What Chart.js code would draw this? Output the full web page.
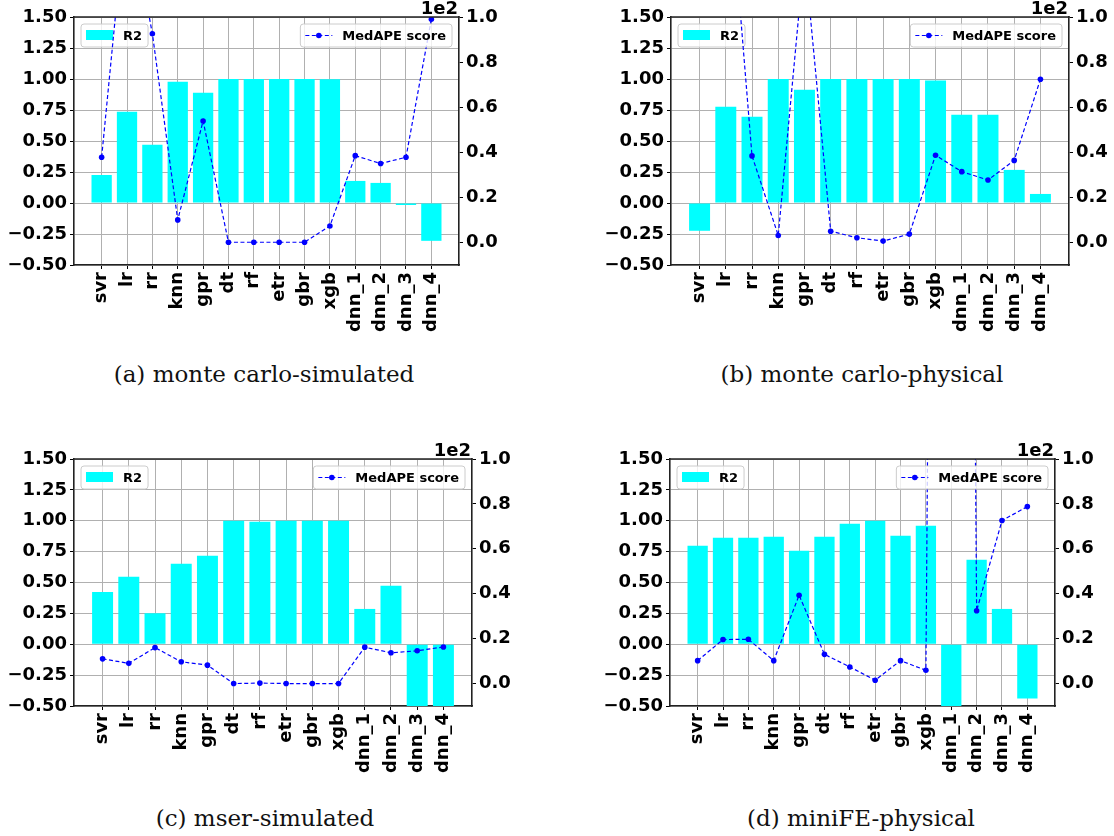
<!DOCTYPE html>
<html>
<head>
<meta charset="utf-8">
<script src="https://cdn.jsdelivr.net/npm/chart.js@4.4.0/dist/chart.umd.min.js"></script>
<style>
  html, body { margin: 0; padding: 0; background: #fff; }
  #page { position: relative; width: 1114px; height: 836px; overflow: hidden; }
  canvas { position: absolute; }
  .caption {
    position: absolute; width: 460px; margin-left: -230px; text-align: center;
    font-family: "DejaVu Serif", serif; font-size: 23px; line-height: 26px; color: #111;
  }
</style>
</head>
<body>
<div id="page"></div>
<script>
// ------------------------------------------------------------
// Data (R2 bars + MedAPE line).
// MedAPE kept in raw percent; right axis shows it as x1e2.
// ------------------------------------------------------------
const MODELS = ["svr", "lr", "rr", "knn", "gpr", "dt", "rf", "etr", "gbr", "xgb",
                "dnn_1", "dnn_2", "dnn_3", "dnn_4"];

const R2_MC_SIM = [0.226, 0.736, 0.469, 0.978, 0.889, 1.0, 1.0, 1.0, 1.0, 0.998, 0.178, 0.162, -0.016, -0.305];
const MAPE_MC_SIM = [37.8, 153, 92.6, 10.0, 53.9, 0.1, 0.1, 0.1, 0.1, 7.3, 38.5, 35.0, 37.8, 99.0];

const R2_MC_PHYS = [-0.224, 0.776, 0.695, 1.0, 0.914, 1.0, 1.0, 1.0, 1.0, 0.987, 0.712, 0.712, 0.267, 0.073];
const MAPE_MC_PHYS = [160, 181, 38.4, 3.1, 128, 5.0, 2.1, 0.6, 3.7, 38.7, 31.4, 27.7, 36.4, 72.4];

const R2_MSER_SIM = [0.424, 0.546, 0.251, 0.651, 0.716, 1.0, 0.992, 1.0, 1.0, 1.0, 0.286, 0.473, -0.8, -0.8];
const MAPE_MSER_SIM = [11.0, 9.0, 16.0, 9.7, 8.2, 0.0, 0.2, 0.0, 0.0, 0.0, 16.2, 13.7, 14.6, 16.3];

const R2_MINIFE_PHYS = [0.797, 0.862, 0.862, 0.870, 0.757, 0.870, 0.976, 1.0, 0.878, 0.959, -0.7, 0.684, 0.286, -0.44];
const MAPE_MINIFE_PHYS = [10.2, 19.6, 19.7, 10.2, 39.3, 13.0, 7.4, 1.5, 10.2, 5.9, 1500, 32.4, 72.6, 78.8];

const R2_RANGE = [-0.5, 1.5];
const R2_STEP = 0.25;
const MAPE_RANGE = [-10, 100];
const MAPE_TICKS = [0, 20, 40, 60, 80, 100];
const MAPE_OFFSET_LABEL = "1e2";

const CAPTIONS = ["(a) monte carlo-simulated", "(b) monte carlo-physical",
                  "(c) mser-simulated", "(d) miniFE-physical"];

// ------------------------------------------------------------
// Layout (page pixels): canvas box + plot area for every panel.
// ------------------------------------------------------------
const PANELS = [
  { r2: R2_MC_SIM, mape: MAPE_MC_SIM, caption: CAPTIONS[0],
    box: { x: 0, y: 0, w: 555, h: 345 }, area: { l: 74, t: 17, r: 459, b: 265 }, cap: { x: 264, y: 361 } },
  { r2: R2_MC_PHYS, mape: MAPE_MC_PHYS, caption: CAPTIONS[1],
    box: { x: 557, y: 0, w: 557, h: 345 }, area: { l: 671, t: 17, r: 1069, b: 265 }, cap: { x: 862, y: 361 } },
  { r2: R2_MSER_SIM, mape: MAPE_MSER_SIM, caption: CAPTIONS[2],
    box: { x: 0, y: 442, w: 555, h: 345 }, area: { l: 74, t: 459, r: 472, b: 706 }, cap: { x: 265, y: 805 } },
  { r2: R2_MINIFE_PHYS, mape: MAPE_MINIFE_PHYS, caption: CAPTIONS[3],
    box: { x: 557, y: 442, w: 557, h: 345 }, area: { l: 670, t: 459, r: 1055, b: 706 }, cap: { x: 861, y: 805 } },
];

const CYAN = "#00ffff";
const BLUE = "#0000ff";
const GRID = "#b0b0b0";
const SPINE = "#222222";
const TICK_FONT = { family: "'DejaVu Sans', sans-serif", size: 18, weight: "bold" };
const LEGEND_FONT = "bold 13px 'DejaVu Sans', sans-serif";
const X_MIN = -1.09;
const X_MAX = MODELS.length - 1 + 1.09;

function minusFmt(s) {
  return s.replace("-", "\u2212");
}

function legendFrame(ctx, x, y, w, h) {
  ctx.beginPath();
  ctx.roundRect(x, y, w, h, 3);
  ctx.fillStyle = "rgba(255,255,255,0.8)";
  ctx.fill();
  ctx.strokeStyle = "#cccccc";
  ctx.lineWidth = 1;
  ctx.stroke();
}

// R2 legend sits under the line (drawn before datasets),
// MedAPE legend, top spine and offset text go on top.
const panelDecor = {
  id: "panelDecor",
  beforeDatasetsDraw(chart) {
    const { ctx, chartArea: a } = chart;
    ctx.save();
    ctx.font = LEGEND_FONT;
    const tw = ctx.measureText("R2").width;
    const x = a.left + 7, y = a.top + 7, h = 23;
    legendFrame(ctx, x, y, 42 + tw + 6, h);
    ctx.fillStyle = CYAN;
    ctx.fillRect(x + 5, y + 6, 27, 10);
    ctx.fillStyle = "#000";
    ctx.textBaseline = "middle";
    ctx.fillText("R2", x + 42, y + h / 2 + 1);
    ctx.restore();
  },
  afterDatasetsDraw(chart) {
    const { ctx, chartArea: a } = chart;
    ctx.save();
    ctx.font = LEGEND_FONT;
    const label = "MedAPE score";
    const tw = ctx.measureText(label).width;
    const w = 42 + tw + 6, h = 23;
    const x = a.right - 7 - w, y = a.top + 7;
    legendFrame(ctx, x, y, w, h);
    ctx.strokeStyle = BLUE;
    ctx.lineWidth = 1.2;
    ctx.setLineDash([4, 2.5]);
    ctx.beginPath();
    ctx.moveTo(x + 5, y + h / 2);
    ctx.lineTo(x + 32, y + h / 2);
    ctx.stroke();
    ctx.setLineDash([]);
    ctx.fillStyle = BLUE;
    ctx.beginPath();
    ctx.arc(x + 18.5, y + h / 2, 2.8, 0, Math.PI * 2);
    ctx.fill();
    ctx.fillStyle = "#000";
    ctx.textBaseline = "middle";
    ctx.fillText(label, x + 42, y + h / 2 + 1);

    // top spine
    ctx.strokeStyle = SPINE;
    ctx.lineWidth = 1.6;
    ctx.beginPath();
    ctx.moveTo(a.left - 0.8, a.top);
    ctx.lineTo(a.right + 0.8, a.top);
    ctx.stroke();

    // offset text of the twin axis
    ctx.font = "bold 18px 'DejaVu Sans', sans-serif";
    ctx.textAlign = "right";
    ctx.textBaseline = "bottom";
    ctx.fillText(MAPE_OFFSET_LABEL, a.right - 1, a.top + 1);
    ctx.restore();
  },
};

function renderPanel(p) {
  const page = document.getElementById("page");
  const canvas = document.createElement("canvas");
  canvas.width = p.box.w;
  canvas.height = p.box.h;
  canvas.style.left = p.box.x + "px";
  canvas.style.top = p.box.y + "px";
  canvas.style.width = p.box.w + "px";
  canvas.style.height = p.box.h + "px";
  page.appendChild(canvas);

  const cap = document.createElement("div");
  cap.className = "caption";
  cap.style.left = p.cap.x + "px";
  cap.style.top = p.cap.y + "px";
  cap.textContent = p.caption;
  page.appendChild(cap);

  const leftW = p.area.l - p.box.x;
  const rightW = p.box.x + p.box.w - p.area.r;
  const bottomH = p.box.y + p.box.h - p.area.b;
  const border = { display: true, color: SPINE, width: 1.6 };

  return new Chart(canvas, {
    type: "bar",
    data: {
      datasets: [
        {
          type: "line",
          label: "MedAPE score",
          data: p.mape.map((v, i) => ({ x: i, y: v })),
          yAxisID: "y1",
          borderColor: BLUE,
          backgroundColor: BLUE,
          borderWidth: 1.2,
          borderDash: [4, 2.5],
          pointRadius: 2.8,
          pointBorderWidth: 0,
          pointBackgroundColor: BLUE,
          tension: 0,
          order: 0,
        },
        {
          type: "bar",
          label: "R2",
          data: p.r2.map((v, i) => ({ x: i, y: v })),
          yAxisID: "y",
          backgroundColor: CYAN,
          categoryPercentage: 0.8,
          barPercentage: 1.0,
          order: 1,
        },
      ],
    },
    options: {
      responsive: false,
      animation: false,
      layout: { padding: { top: p.area.t - p.box.y, left: 0, right: 0, bottom: 0 } },
      plugins: { legend: { display: false }, tooltip: { enabled: false } },
      scales: {
        x: {
          type: "linear",
          min: X_MIN,
          max: X_MAX,
          offset: false,
          afterBuildTicks: (axis) => { axis.ticks = MODELS.map((_, i) => ({ value: i })); },
          afterFit: (scale) => { scale.height = bottomH; },
          grid: { color: GRID, lineWidth: 1, offset: false, tickLength: 4, tickColor: "#000", tickWidth: 1 },
          border,
          ticks: {
            autoSkip: false, maxRotation: 90, minRotation: 90, padding: 3,
            color: "#000", font: TICK_FONT,
            callback: (v) => MODELS[v] ?? "",
          },
        },
        y: {
          position: "left",
          min: R2_RANGE[0],
          max: R2_RANGE[1],
          afterFit: (scale) => { scale.width = leftW; },
          grid: { color: GRID, lineWidth: 1, tickLength: 4, tickColor: "#000", tickWidth: 1 },
          border,
          ticks: {
            stepSize: R2_STEP, padding: 3, color: "#000", font: TICK_FONT,
            callback: (v) => minusFmt(Number(v).toFixed(2)),
          },
        },
        y1: {
          position: "right",
          min: MAPE_RANGE[0],
          max: MAPE_RANGE[1],
          afterBuildTicks: (axis) => { axis.ticks = MAPE_TICKS.map((v) => ({ value: v })); },
          afterFit: (scale) => { scale.width = rightW; },
          grid: { drawOnChartArea: false, tickLength: 4, tickColor: "#000", tickWidth: 1 },
          border,
          ticks: {
            padding: 3, color: "#000", font: TICK_FONT,
            callback: (v) => (v / 100).toFixed(1),
          },
        },
      },
    },
    plugins: [panelDecor],
  });
}

PANELS.forEach(renderPanel);
</script>
</body>
</html>
